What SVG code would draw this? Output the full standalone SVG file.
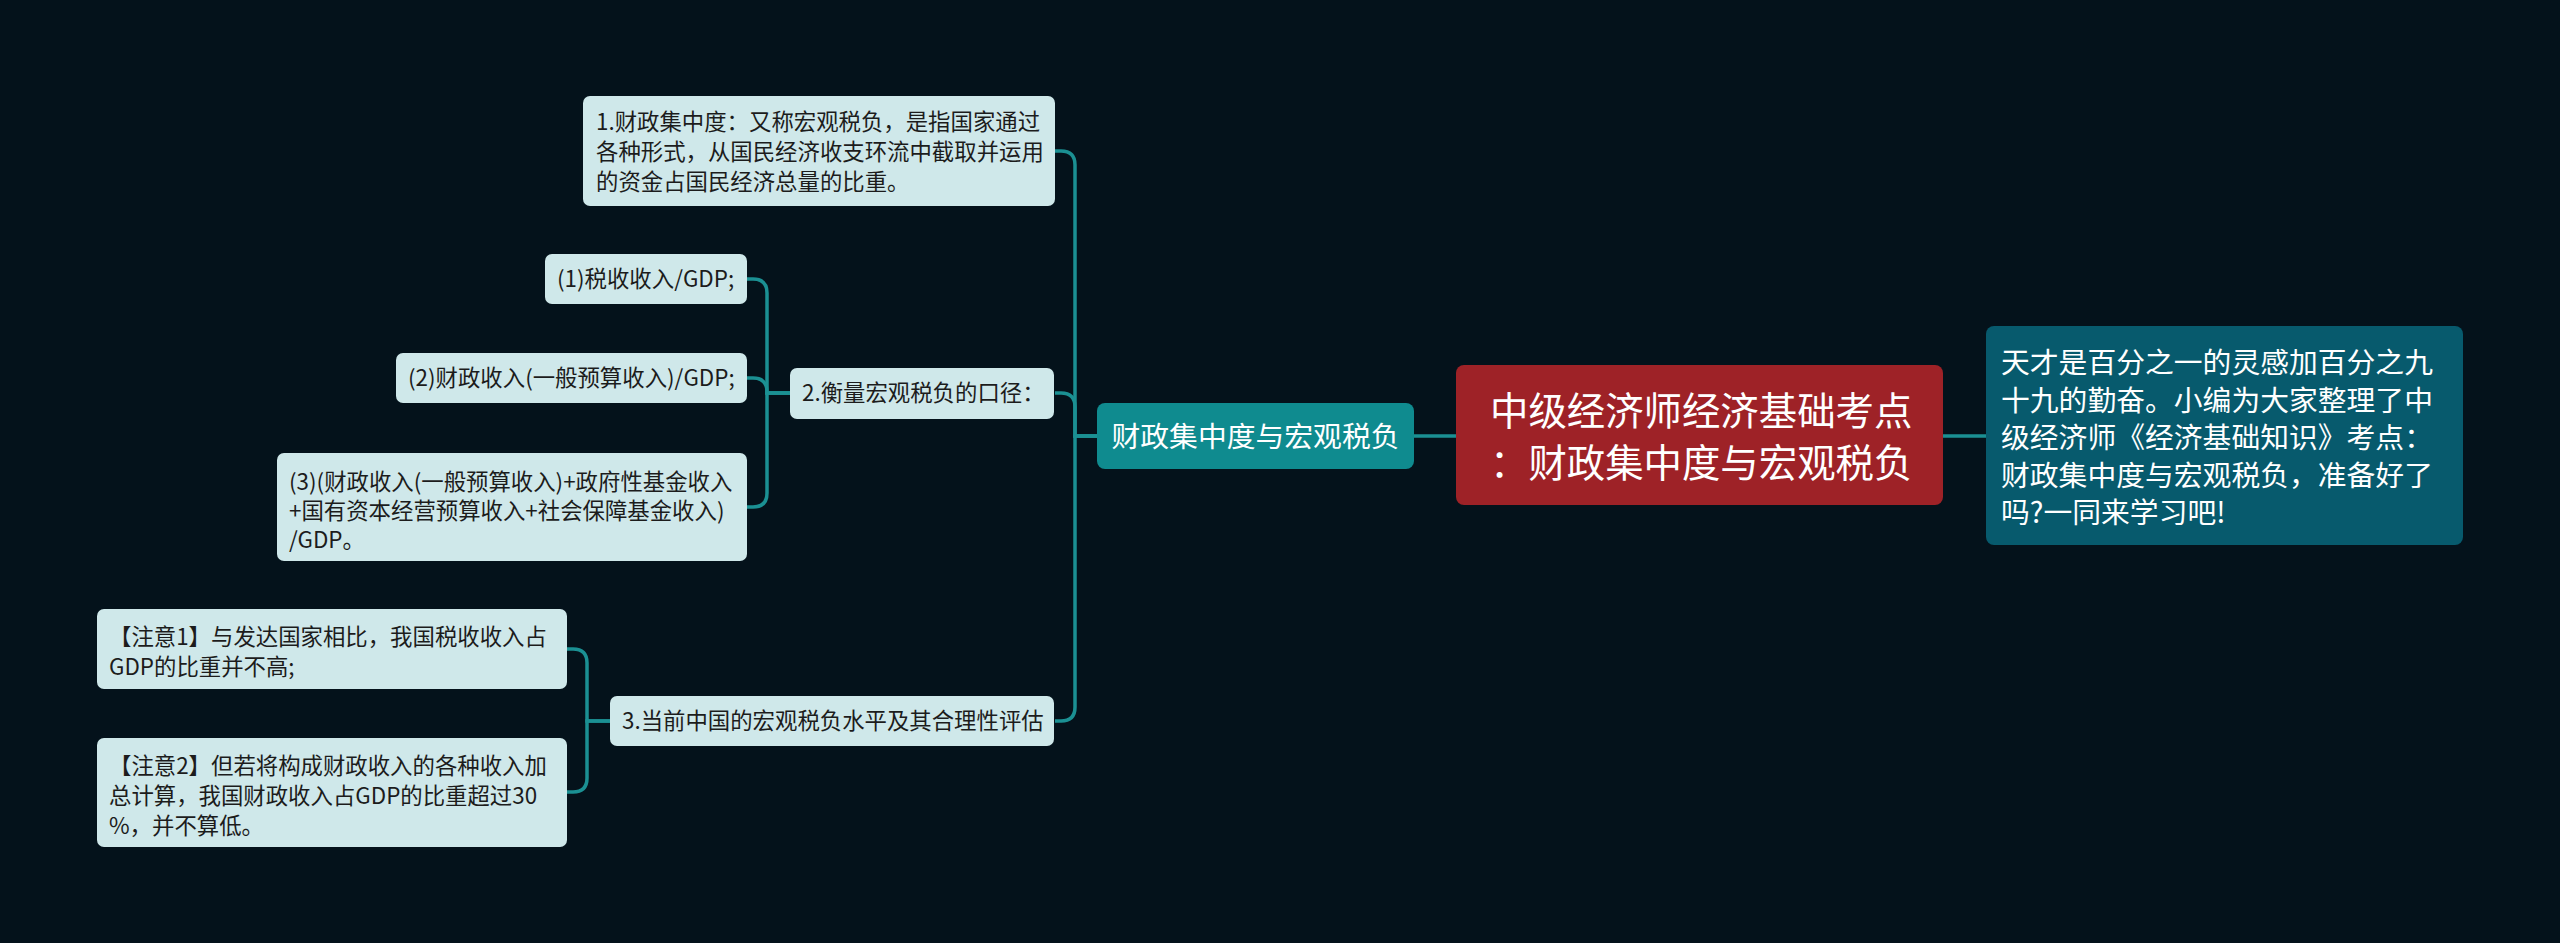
<svg xmlns="http://www.w3.org/2000/svg" width="2560" height="943" viewBox="0 0 2560 943">
<style>
  .bg { fill: #04121b; }
  .leaf rect { fill: #cfe8ea; }
  .leaf text { font-family: "Noto Sans CJK SC", "Noto Sans", sans-serif; font-size: 22.4px; fill: #1c1c1c; }
  .branch rect { fill: #0f8b8f; }
  .branch text { font-family: "Noto Sans CJK SC", "Noto Sans", sans-serif; font-size: 28.8px; fill: #ffffff; }
  .root rect { fill: #9e2227; }
  .root text { font-family: "Noto Sans CJK SC", "Noto Sans", sans-serif; font-size: 38.4px; fill: #ffffff; }
  .note rect { fill: #075a6d; }
  .note text { font-family: "Noto Sans CJK SC", "Noto Sans", sans-serif; font-size: 28.8px; fill: #ffffff; }
  .conn path { fill: none; stroke: #1b9093; stroke-width: 3.5; }
</style>
<rect class="bg" x="0" y="0" width="2560" height="943"/>

<g id="connectors" class="conn">
  <path d="M1414 436 H1456"/>
  <path d="M1943 436 H1986"/>
  <path d="M1097 436 H1075 V165 Q1075 151 1061 151 H1055"/>
  <path d="M1097 436 H1075 V407 Q1075 393 1061 393 H1055"/>
  <path d="M1097 436 H1075 V707 Q1075 721 1061 721 H1055"/>
  <path d="M790 393 H767 V293 Q767 279 753 279 H747"/>
  <path d="M790 393 H767 V392 Q767 378 753 378 H747"/>
  <path d="M790 393 H767 V493 Q767 507 753 507 H747"/>
  <path d="M610 721 H587 V663 Q587 649 573 649 H567"/>
  <path d="M610 721 H587 V778 Q587 792 573 792 H567"/>
</g>

<g id="root" class="root">
  <rect x="1456" y="365" width="487" height="140" rx="8"/>
  <text x="1490" y="425">中级经济师经济基础考点</text>
  <text x="1490" y="477">：财政集中度与宏观税负</text>
</g>

<g id="intro" class="note">
  <rect x="1986" y="326" width="477" height="219" rx="8"/>
  <text x="2001" y="373">天才是百分之一的灵感加百分之九</text>
  <text x="2001" y="410.5">十九的勤奋。小编为大家整理了中</text>
  <text x="2001" y="448">级经济师《经济基础知识》考点：</text>
  <text x="2001" y="485.5">财政集中度与宏观税负，准备好了</text>
  <text x="2001" y="523">吗?一同来学习吧!</text>
</g>

<g id="branch" class="branch">
  <rect x="1097" y="403" width="317" height="66" rx="8"/>
  <text x="1255.5" y="447" text-anchor="middle">财政集中度与宏观税负</text>
</g>

<g id="n1" class="leaf">
  <rect x="583" y="96" width="472" height="110" rx="7"/>
  <text x="596" y="130">1.财政集中度：又称宏观税负，是指国家通过</text>
  <text x="596" y="160">各种形式，从国民经济收支环流中截取并运用</text>
  <text x="596" y="190">的资金占国民经济总量的比重。</text>
</g>

<g id="n2" class="leaf">
  <rect x="790" y="368" width="264" height="51" rx="7"/>
  <text x="802" y="401">2.衡量宏观税负的口径：</text>
</g>

<g id="n2a" class="leaf">
  <rect x="545" y="254" width="202" height="50" rx="7"/>
  <text x="557" y="287">(1)税收收入/GDP;</text>
</g>

<g id="n2b" class="leaf">
  <rect x="396" y="353" width="351" height="50" rx="7"/>
  <text x="408" y="386">(2)财政收入(一般预算收入)/GDP;</text>
</g>

<g id="n2c" class="leaf">
  <rect x="277" y="453" width="470" height="108" rx="7"/>
  <text x="289" y="490">(3)(财政收入(一般预算收入)+政府性基金收入</text>
  <text x="289" y="519">+国有资本经营预算收入+社会保障基金收入)</text>
  <text x="289" y="548">/GDP。</text>
</g>

<g id="n3" class="leaf">
  <rect x="610" y="696" width="444" height="50" rx="7"/>
  <text x="622" y="729">3.当前中国的宏观税负水平及其合理性评估</text>
</g>

<g id="n3a" class="leaf">
  <rect x="97" y="609" width="470" height="80" rx="7"/>
  <text x="109" y="645">【注意1】与发达国家相比，我国税收收入占</text>
  <text x="109" y="675">GDP的比重并不高;</text>
</g>

<g id="n3b" class="leaf">
  <rect x="97" y="738" width="470" height="109" rx="7"/>
  <text x="109" y="774">【注意2】但若将构成财政收入的各种收入加</text>
  <text x="109" y="804">总计算，我国财政收入占GDP的比重超过30</text>
  <text x="109" y="834">%，并不算低。</text>
</g>
</svg>
